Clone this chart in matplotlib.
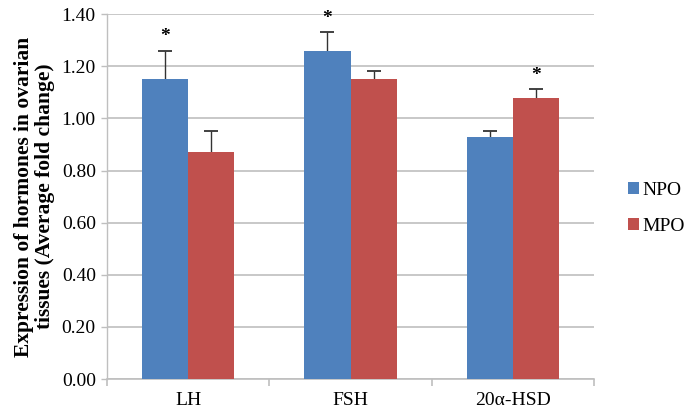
import numpy as np
import matplotlib.pyplot as plt

categories = ["LH", "FSH", "20α-HSD"]
npo_values = [1.15, 1.26, 0.93]
mpo_values = [0.87, 1.15, 1.08]
npo_errors = [0.11, 0.07, 0.022]
mpo_errors = [0.08, 0.032, 0.032]
npo_star = [True, True, False]
mpo_star = [False, False, True]
yticks = [0.0, 0.2, 0.4, 0.6, 0.8, 1.0, 1.2, 1.4]

BLUE = "#4F81BD"
RED = "#C0504D"
GRID = "#BFBFBF"
ERR = "#333333"

plt.rcParams["font.family"] = ["Liberation Serif", "DejaVu Serif"]

fig = plt.figure(figsize=(6.9, 4.17), dpi=100)
ax = fig.add_axes([0.155, 0.091, 0.706, 0.875])

x = np.arange(len(categories))
w = 0.284
ax.bar(x - w / 2, npo_values, w, color=BLUE, label="NPO", zorder=3)
ax.bar(x + w / 2, mpo_values, w, color=RED, label="MPO", zorder=3)

# upward-only error bars: stem + top cap
for xs, vals, errs in [(x - w / 2, npo_values, npo_errors),
                       (x + w / 2, mpo_values, mpo_errors)]:
    tops = np.array(vals) + np.array(errs)
    ax.vlines(xs, vals, tops, color=ERR, linewidth=1.0, zorder=2)
    ax.plot(xs, tops, linestyle="none", marker="_", markersize=10,
            markeredgewidth=1.3, color=ERR, zorder=2)

for i in range(len(categories)):
    if npo_star[i]:
        ax.text(x[i] - w / 2, npo_values[i] + npo_errors[i] + 0.02, "*",
                ha="center", va="bottom", fontsize=14, fontweight="bold")
    if mpo_star[i]:
        ax.text(x[i] + w / 2, mpo_values[i] + mpo_errors[i] + 0.02, "*",
                ha="center", va="bottom", fontsize=14, fontweight="bold")

ax.set_xlim(-0.5, len(categories) - 0.5)
ax.set_ylim(0, 1.4)
ax.set_yticks(yticks)
ax.set_yticklabels([f"{v:.2f}" for v in yticks], fontsize=14)
ax.set_xticks(x)
ax.set_xticklabels(categories, fontsize=14)
ax.set_xticks(np.arange(len(categories) + 1) - 0.5, minor=True)
ax.tick_params(axis="x", which="major", length=0, pad=9)
ax.tick_params(axis="x", which="minor", length=5, color=GRID, width=1.2)
ax.tick_params(axis="y", length=4, color=GRID, width=1.0, pad=4)

ax.yaxis.grid(True, color=GRID, linewidth=1.2, zorder=0)
ax.set_axisbelow(True)
for s in ["top", "right"]:
    ax.spines[s].set_visible(False)
ax.spines["left"].set_color(GRID)
ax.spines["left"].set_linewidth(1.0)
ax.spines["bottom"].set_color(GRID)
ax.spines["bottom"].set_linewidth(1.2)

ax.set_ylabel("Expression of hormones in ovarian\ntissues (Average fold change)",
              fontsize=15.5, fontweight="bold", labelpad=5, linespacing=1.05)

fig.legend(loc="center left", bbox_to_anchor=(0.885, 0.5), frameon=False,
           fontsize=14, handlelength=0.55, handleheight=0.55, handletextpad=0.2,
           labelspacing=1.0)

fig.savefig("out.png", dpi=100)
